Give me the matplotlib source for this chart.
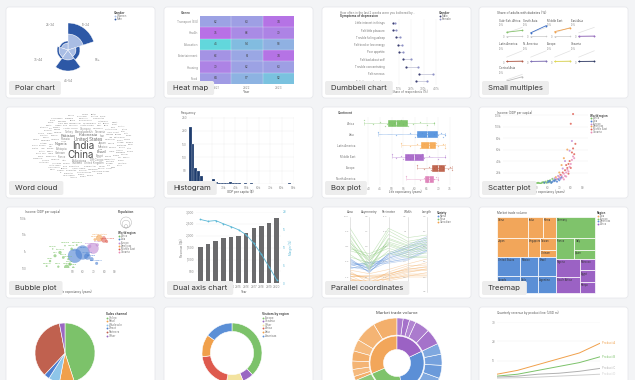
#!/usr/bin/env python3
import numpy as np
import matplotlib
matplotlib.use('Agg')
import matplotlib.pyplot as plt
from matplotlib.colors import LinearSegmentedColormap, to_rgb
from matplotlib.patches import FancyBboxPatch, Rectangle, Circle

W, H = 635, 380
plt.rcParams['font.family'] = ['Inter', 'DejaVu Sans']

# gallery layout (pixels)
CARD_X = [6, 164, 322, 479]
CARD_Y = [7, 107, 207, 307]
CARD_W, CARD_H = 149, 91
CARD_LABELS = ['Polar chart', 'Heat map', 'Dumbbell chart', 'Small multiples',
               'Word cloud', 'Histogram', 'Box plot', 'Scatter plot',
               'Bubble plot', 'Dual axis chart', 'Parallel coordinates', 'Treemap']

# ---------------- data ----------------
POLAR_CATS = ['18-24', '25-34', '35-44', '45-54', '55+']
POLAR_WOMEN = [16, 7, 9, 10, 8]
POLAR_MEN = [11, 2, 2, 11, 4]

HEAT_ROWS = ['Transport (EU)', 'Health', 'Education', 'Entertainment', 'Housing', 'Food']
HEAT_COLS = ['2021', '2022', '2023']
HEAT_VALUES = [[62, 63, 74], [75, 68, 70], [45, 54, 58],
               [66, 61, 74], [70, 62, 63], [64, 57, 52]]

DB_ITEMS = ['Little interest in things', 'Felt little pleasure', 'Trouble falling asleep',
            'Felt tired or low energy', 'Poor appetite', 'Felt bad about self',
            'Trouble concentrating', 'Felt nervous', 'Felt down or hopeless']
DB_MALE = [5.0, 5.0, 7.5, 9.1, 10.2, 13.4, 15.8, 26.4, 24.0]
DB_FEMALE = [6.6, 7.7, 11.0, 12.7, 13.5, 19.7, 25.3, 37.8, 33.0]

SM_REGIONS = ['Sub-Sah. Africa', 'South Asia', 'Middle East', 'East Asia',
              'Latin America', 'N. America', 'Europe', 'Oceania', 'Central Asia']
SM_YEARS = [2010, 2020]
SM_WORLD = [3.5, 8.0]
SM_LOW = [0.4, 0.5]
SM_VALUES = [[4.0, 5.5], [3.5, 9.5], [4.5, 7.5], [0.6, 0.8], [0.4, 0.6],
             [0.4, 0.6], [0.4, 0.6], [0.4, 0.5], [2.5, 6.0]]
SM_COLORS = ['#86c26d', '#3d6fc6', '#f0a24f', '#9a6cc4', '#b65a47',
             '#7d6cb8', '#e3dc4f', '#2f3a66', '#bbbbbb']

WORDS = ['India', 'China', 'United States', 'Indonesia', 'Pakistan', 'Nigeria', 'Brazil', 'Bangladesh', 'Russia', 'Mexico',
         'Ethiopia', 'Japan', 'Philippines', 'Egypt', 'DR Congo', 'Vietnam', 'Iran', 'Turkey', 'Germany', 'Thailand',
         'United Kingdom', 'Tanzania', 'France', 'South Africa', 'Italy', 'Kenya', 'Myanmar', 'Colombia', 'South Korea', 'Uganda',
         'Sudan', 'Spain', 'Argentina', 'Algeria', 'Iraq', 'Afghanistan', 'Poland', 'Canada', 'Morocco', 'Ukraine',
         'Saudi Arabia', 'Angola', 'Uzbekistan', 'Yemen', 'Peru', 'Malaysia', 'Ghana', 'Mozambique', 'Nepal', 'Madagascar',
         'Venezuela', 'Ivory Coast', 'Cameroon', 'Niger', 'Australia', 'North Korea', 'Taiwan', 'Syria', 'Mali', 'Burkina Faso',
         'Sri Lanka', 'Malawi', 'Zambia', 'Chile', 'Kazakhstan', 'Romania', 'Chad', 'Ecuador', 'Somalia', 'Guatemala',
         'Senegal', 'Netherlands', 'Cambodia', 'Zimbabwe', 'Guinea', 'Rwanda', 'Benin', 'Burundi', 'Tunisia', 'Bolivia',
         'Haiti', 'Belgium', 'Jordan', 'Cuba', 'South Sudan', 'Dominican Rep.', 'Czechia', 'Greece', 'Sweden', 'Portugal',
         'Azerbaijan', 'Hungary', 'Honduras', 'Tajikistan', 'Israel', 'Belarus', 'Austria', 'UAE', 'Papua New Guinea', 'Switzerland',
         'Togo', 'Sierra Leone', 'Laos', 'Serbia', 'Paraguay', 'Libya', 'Bulgaria', 'Lebanon', 'Nicaragua', 'Kyrgyzstan',
         'El Salvador', 'Turkmenistan', 'Singapore', 'Denmark', 'Finland', 'Congo', 'Norway', 'Slovakia', 'Palestine', 'Oman',
         'Costa Rica', 'Liberia', 'Ireland', 'New Zealand', 'CAR', 'Mauritania', 'Panama', 'Kuwait', 'Croatia', 'Georgia',
         'Eritrea', 'Uruguay', 'Mongolia', 'Bosnia', 'Jamaica', 'Armenia', 'Albania', 'Lithuania', 'Qatar', 'Namibia',
         'Gambia', 'Botswana', 'Gabon', 'Lesotho', 'Slovenia', 'Latvia', 'N. Macedonia', 'Kosovo', 'Bahrain', 'Estonia',
         'Mauritius', 'Cyprus', 'Djibouti', 'Fiji', 'Guyana', 'Bhutan', 'Luxembourg', 'Malta', 'Iceland']
WORD_POP = [1428, 1425, 340, 277, 240, 223, 216, 173, 144, 128,
            126, 123, 117, 112, 102, 98, 89, 85, 83, 71,
            67, 67, 64, 60, 59, 55, 54, 52, 51, 48,
            48, 47, 46, 45, 45, 42, 41, 38, 37, 37,
            36, 36, 35, 34, 34, 34, 34, 33, 31, 30,
            29, 28, 28, 27, 26, 26, 24, 23, 23, 23,
            22, 20, 20, 19, 19, 19, 18, 18, 18, 18,
            17, 17, 17, 16, 14, 14, 13, 13, 12, 12,
            12, 11, 11, 11, 11, 11, 10, 10, 10, 10,
            10, 10, 10, 10, 9, 9, 9, 9, 10, 9,
            9, 9, 7.6, 7, 6.8, 6.9, 6.7, 5.4, 7, 7,
            6.3, 6.5, 6, 5.9, 5.5, 6, 5.5, 5.4, 5.4, 4.6,
            5.2, 5.4, 5.1, 5.2, 5.7, 4.9, 4.5, 4.3, 4, 3.7,
            3.7, 3.4, 3.4, 3.2, 2.8, 2.8, 2.8, 2.7, 2.7, 2.6,
            2.8, 2.7, 2.4, 2.3, 2.1, 1.8, 2.1, 1.7, 1.5, 1.3,
            1.3, 1.3, 1.1, 0.9, 0.8, 0.8, 0.65, 0.53, 0.38]

HIST_BIN = 2.5  # thousand $
HIST_COUNTS = [215, 150, 60, 50, 30, 10, 6, 5, 17, 8, 4, 3, 2, 4, 6, 5, 2, 3,
               1, 2, 1, 2, 0, 1, 0, 1, 0, 0, 1, 0, 0, 0, 0, 0, 2, 0]

BOX_GROUPS = ['Africa', 'Asia', 'Latin America', 'Middle East', 'Europe', 'North America']
BOX_COLORS = ['#74bf5e', '#4c8ddc', '#f5a54a', '#a35fc6', '#b9573f', '#dc7ab5']
BOX_VALUES = [[38, 42, 45, 47, 48, 49, 50, 51, 52, 52, 53, 54, 55, 56, 57, 59, 62, 65, 68],
              [44, 52, 58, 60, 61, 63, 64, 65, 65, 66, 68, 69, 70, 71, 72, 73],
              [54, 58, 61, 62, 63, 64, 65, 66, 66, 67, 68, 69, 70, 72, 73],
              [50, 52, 54, 55, 56, 57, 58, 59, 60, 61, 62, 63, 64, 66, 70, 73],
              [61, 64, 66, 67, 68, 69, 70, 70, 71, 72, 72, 73, 74, 75, 76],
              [56, 62, 64, 65, 66, 66, 67, 68, 69, 70]]

REGION_NAMES = ['Africa', 'Asia', 'Europe', 'Americas', 'Middle East', 'Oceania']
REGION_COLORS = ['#74bf5e', '#4a7fd1', '#c08ad4', '#f2a04e', '#de5a4e', '#e88bb8']

SC_REGION = [0] * 18 + [1] * 14 + [2] * 7 + [4] * 15 + [3] * 5 + [5] * 16
SC_LIFE = [45, 48, 50, 51, 52, 53, 54, 55, 56, 57, 58, 59, 60, 61, 62, 63, 64, 66,
           57, 60, 61, 62, 63, 64, 65, 66, 67, 68, 69, 70, 71, 72,
           66, 69, 71, 73, 75, 79, 81,
           71, 73, 75, 76, 77, 78, 78, 79, 80, 80, 81, 82, 82, 83, 84,
           67, 70, 72, 74, 77,
           68, 70, 72, 73, 74, 74, 75, 76, 76, 77, 78, 79, 80, 81, 82, 83]
SC_GDP = [1.2, 0.8, 1.5, 1.9, 2.0, 1.1, 0.9, 2.5, 3.2, 1.8, 4.0, 2.2, 5.5, 3.0, 6.5, 2.8, 9.0, 7.0,
          2.5, 3.0, 5.2, 4.5, 2.0, 3.8, 6.0, 5.0, 7.5, 4.2, 8.5, 6.5, 10, 12,
          10, 14, 9, 27, 40, 58, 75,
          16, 20, 24, 33, 28, 35, 18, 40, 28, 105, 55, 62, 122, 52, 70,
          12, 20, 33, 45, 60,
          9, 12, 15, 11, 18, 8, 14, 20, 13, 25, 22, 30, 35, 42, 48, 45]

BUB_NAMES = ['India', 'China', 'Indonesia', 'Vietnam', 'Bangladesh',
             'Russia', 'Turkey', 'Poland', 'United States', 'Mexico', 'Iran', 'Saudi Arabia',
             'Niger', 'Mali', 'Ethiopia', 'Kenya', 'Nigeria', 'Ghana', 'Chad', 'Gabon',
             'Botswana', 'Burundi', 'Namibia', 'Malawi', 'Uganda', 'Zambia']
BUB_REGION = [1, 1, 1, 1, 1, 2, 2, 2, 3, 3, 4, 4] + [0] * 14
BUB_LIFE = [52.3, 59.6, 64.0, 68.0, 72.8, 69.6, 65.8, 73.4, 75.3, 71.2, 79.7, 82.2,
            28.8, 33.5, 38.2, 41.3, 44.5, 47.6, 36.6, 49.2, 54.0, 25.6, 42.9, 31.3, 46.0, 50.7]
BUB_GDP = [540, 850, 490, 340, 190, 1500, 2000, 2450, 6200, 5100, 4900, 3900,
           260, 540, 850, 430, 110, 170, 120, 1400, 2400, 130, 2200, 1400, 340, 105]
BUB_POP = [1400, 1400, 270, 95, 50, 800, 100, 60, 300, 40, 200, 50,
           30, 50, 60, 40, 180, 60, 25, 35, 15, 15, 10, 8, 20, 30]

DA_YEARS = list(range(2010, 2021))
DA_SALES = [1543, 1671, 1786, 1886, 1943, 1986, 2100, 2314, 2429, 2557, 2743]
DA_MARGIN = [17.9, 17.4, 17.6, 16.7, 15.9, 15.0, 13.6, 11.2, 8.1, 4.6, 0.95]

PC_AXES = ['Area', 'Asymmetry', 'Perimeter', 'Width', 'Length']
PC_RANGES = [(10, 22), (0, 9), (12, 18), (2.5, 4.5), (4.5, 7.0)]
PC_VARIETIES = ['Kama', 'Rosa', 'Canadian']
PC_COLORS = ['#5b8fd8', '#7dc36b', '#f0a04b']
PC_CANADIAN = [[12.1, 1.2, 13.1, 2.98, 5.10], [12.6, 0.9, 13.3, 3.05, 5.22], [13.0, 1.6, 13.5, 3.10, 5.35],
               [11.8, 1.4, 13.0, 2.95, 5.05], [12.4, 2.0, 13.4, 3.15, 5.48], [13.3, 1.1, 13.6, 3.20, 5.40],
               [12.8, 1.8, 13.2, 3.02, 5.28], [12.2, 0.7, 13.1, 2.92, 5.15], [13.5, 2.2, 13.8, 3.25, 5.60],
               [12.9, 1.5, 13.4, 3.12, 5.32], [11.9, 1.0, 12.9, 2.90, 5.00], [12.5, 1.9, 13.3, 3.08, 5.25]]
PC_KAMA = [[14.0, 2.6, 14.4, 3.40, 5.90], [14.6, 3.0, 14.7, 3.55, 6.05], [15.1, 2.4, 14.9, 3.65, 6.20],
           [13.7, 3.4, 14.3, 3.35, 5.85], [14.9, 2.8, 15.0, 3.70, 6.30], [14.3, 3.5, 14.6, 3.50, 6.00],
           [15.4, 2.3, 15.1, 3.75, 6.35], [13.9, 2.9, 14.5, 3.45, 5.95], [14.7, 3.2, 14.8, 3.60, 6.10],
           [15.2, 2.7, 15.0, 3.68, 6.25], [14.1, 3.6, 14.4, 3.38, 5.88], [14.5, 2.5, 14.7, 3.58, 6.15]]
PC_ROSA = [[16.0, 3.0, 15.3, 3.45, 5.70], [17.2, 3.8, 15.8, 3.60, 5.95], [18.5, 2.8, 16.3, 3.75, 6.15],
           [16.6, 4.3, 15.5, 3.50, 5.80], [19.4, 3.3, 16.9, 3.85, 6.30], [17.8, 4.0, 16.0, 3.68, 6.05],
           [15.6, 3.5, 15.1, 3.42, 5.65], [18.1, 2.6, 16.2, 3.72, 6.10], [16.9, 4.6, 15.7, 3.55, 5.90],
           [19.0, 3.7, 16.6, 3.80, 6.22], [17.5, 3.1, 15.9, 3.62, 6.00], [20.2, 4.1, 17.1, 3.95, 6.40]]

TM_REGIONS = ['Asia', 'Europe', 'Americas', 'Africa']
TM_COLORS = ['#f2a65a', '#7fc36b', '#5b8fd6', '#9b62c4']
TM_ITEMS = [['China', 'Japan', 'India', 'Korea', 'Singapore', 'Taiwan', 'Vietnam'],
            ['Germany', 'France', 'Italy', 'Spain'],
            ['United States', 'Canada', 'Mexico', 'Brazil', 'Chile', 'Argentina'],
            ['Nigeria', 'South Africa', 'Egypt', 'Morocco', 'Kenya']]
TM_VALUES = [[651, 589, 315, 273, 228, 192, 112],
             [819, 390, 252, 189],
             [467, 389, 360, 353, 300, 295],
             [432, 400, 175, 175, 165]]

PIE_LABELS = ['Online', 'Retail', 'Wholesale', 'Direct', 'Partners', 'Other']
PIE_VALUES = [45, 8, 6, 3, 35, 3]
PIE_COLORS = ['#7cc26a', '#f0a04b', '#8ec5e8', '#4e7fd0', '#c0614f', '#9a68c2']

DONUT_LABELS = ['Europe', 'Oceania', 'Other', 'Africa', 'Asia', 'Americas']
DONUT_VALUES = [38, 6, 9, 20, 12, 15]
DONUT_COLORS = ['#7cc26a', '#9a68c2', '#f3e3a0', '#de5a4e', '#f0a04b', '#5b8fd6']

LC_YEARS = [2000, 2004, 2008, 2012, 2016, 2020]
LC_NAMES = ['Product A', 'Product B', 'Product C', 'Product D']
LC_VALUES = [[3, 5, 8, 11, 14, 19], [2, 3, 5, 7, 9, 12],
             [1.5, 2, 3, 3.5, 4.5, 6], [1, 1.2, 1.5, 2, 2.5, 3]]
LC_COLORS = ['#f0a04b', '#7cc26a', '#b0b0b0', '#cfcfcf']

TICK = '#8c8c8c'
TINY = 2.2

# ---------------- figure ----------------
fig = plt.figure(figsize=(W / 100, H / 100), dpi=100)
fig.patch.set_facecolor('#f3f4f6')

bg = fig.add_axes([0, 0, 1, 1], zorder=-1)
bg.set_xlim(0, W)
bg.set_ylim(H, 0)
bg.axis('off')

ov = fig.add_axes([0, 0, 1, 1], zorder=10)
ov.set_xlim(0, W)
ov.set_ylim(H, 0)
ov.axis('off')


def card_axes(x0, y0, x1, y1, **kw):
    return fig.add_axes([x0 / W, 1 - y1 / H, (x1 - x0) / W, (y1 - y0) / H], **kw)


def tidy(ax, grid='both'):
    ax.set_facecolor('none')
    for s in ax.spines.values():
        s.set_visible(False)
    ax.tick_params(length=0, labelsize=TINY, labelcolor=TICK, pad=1.2)
    if grid:
        ax.grid(True, axis=grid, color='#ececec', lw=0.3)
        ax.set_axisbelow(True)


def note(x, y, s, fs=2.4, color='#555', **kw):
    ov.text(x, y, s, fontsize=fs, color=color, va='center', **kw)


def legend(x, y, title, labels, colors, dy=3.0, fs=2.3):
    note(x, y, title, fs=fs, color='#444', fontweight='bold')
    for i, (lab, col) in enumerate(zip(labels, colors)):
        yy = y + dy * (i + 1)
        ov.scatter([x + 1], [yy], s=1.8, color=col, linewidths=0)
        note(x + 2.6, yy, lab, fs=fs * 0.9, color='#777')


def lighten(c, k):
    r, g, b = to_rgb(c)
    return (r + (1 - r) * k, g + (1 - g) * k, b + (1 - b) * k)


def squarify(values, x, y, w, h):
    total = sum(values)
    vals = [v * w * h / total for v in values]

    def worst(row, side):
        thick = sum(row) / side
        return max(max(thick / (v / thick), (v / thick) / thick) for v in row)

    rects, i = [], 0
    while i < len(vals):
        side = min(w, h)
        row = [vals[i]]
        i += 1
        while i < len(vals) and worst(row + [vals[i]], side) <= worst(row, side):
            row.append(vals[i])
            i += 1
        thick = sum(row) / side
        if w > h:
            yy = y
            for v in row:
                rects.append((x, yy, thick, v / thick))
                yy += v / thick
            x += thick
            w -= thick
        else:
            xx = x
            for v in row:
                rects.append((xx, y, v / thick, thick))
                xx += v / thick
            y += thick
            h -= thick
    return rects


# ---------------- charts ----------------
def draw_polar():
    ax = card_axes(38, 20, 98, 80, projection='polar')
    n = len(POLAR_CATS)
    theta = np.deg2rad(54) + np.arange(n) * 2 * np.pi / n
    ax.bar(theta, POLAR_WOMEN, width=2 * np.pi / n, color='#a9bde4', edgecolor='white', linewidth=0.3)
    ax.bar(theta, POLAR_MEN, width=2 * np.pi / n, bottom=POLAR_WOMEN, color='#2d58a6',
           edgecolor='white', linewidth=0.3)
    ax.set_ylim(0, 30)
    ax.set_axis_off()
    for t, lab in zip(theta, POLAR_CATS):
        ax.text(t, 31, lab, fontsize=TINY, color='#777', ha='center', va='center')
    legend(114, 13, 'Gender', ['Women', 'Men'], ['#a9bde4', '#2d58a6'])


def draw_heatmap():
    ax = card_axes(200, 16, 294, 84)
    vals = np.array(HEAT_VALUES)
    cmap = LinearSegmentedColormap.from_list('cyan_purple', ['#62d7dc', '#98abe4', '#b870e6'])
    ax.imshow(vals, cmap=cmap, vmin=45, vmax=75, aspect='auto')
    ax.set_xticks(range(len(HEAT_COLS)), HEAT_COLS)
    ax.set_yticks(range(len(HEAT_ROWS)), HEAT_ROWS)
    tidy(ax, None)
    for k in range(1, len(HEAT_ROWS)):
        ax.axhline(k - 0.5, color='white', lw=0.3, alpha=0.6)
    for k in range(1, len(HEAT_COLS)):
        ax.axvline(k - 0.5, color='white', lw=0.3, alpha=0.6)
    for (r, c), v in np.ndenumerate(vals):
        ax.text(c, r, f'{v}', ha='center', va='center', fontsize=TINY, color='#444')
    note(181, 13, 'Genre', fontweight='bold')
    note(247, 92, 'Year', ha='center')


def draw_dumbbell():
    ax = card_axes(386.6, 19, 442, 85)
    y = np.arange(len(DB_ITEMS))
    ax.hlines(y, DB_MALE, DB_FEMALE, color='#c9cadb', lw=0.6)
    ax.scatter(DB_MALE, y, s=2.5, color='#3b3e72', zorder=3, linewidths=0)
    ax.scatter(DB_FEMALE, y, s=2.5, color='#8f92c6', zorder=3, linewidths=0)
    ax.set_xlim(0, 45)
    ax.set_ylim(len(DB_ITEMS) - 0.45, -0.55)
    ax.set_xticks([10, 20, 30, 40], ['10%', '20%', '30%', '40%'])
    ax.set_yticks(y, DB_ITEMS)
    tidy(ax, 'x')
    ax.tick_params(axis='y', labelsize=2.0, labelcolor='#777')
    note(340, 13, 'How often in the last 2 weeks were you bothered by...', fs=2.1, color='#777')
    note(340, 16.3, 'Symptoms of depression', fs=2.2, color='#444', fontweight='bold')
    legend(439, 13, 'Gender', ['Male', 'Female'], ['#3b3e72', '#8f92c6'])
    note(410, 92, 'Share of respondents (%)', fs=2.1, color='#666', ha='center')


def draw_small_multiples():
    lefts = [506, 530, 554, 578]
    rows = [(25, 37), (48, 62), (72, 84)]
    note(497, 13, 'Share of adults with diabetes (%)', fs=2.3, color='#555')
    for i, name in enumerate(SM_REGIONS):
        r, c = divmod(i, 4)
        x0 = lefts[c]
        y0, y1 = rows[r]
        ax = card_axes(x0, y0, x0 + 17, y1)
        ax.plot(SM_YEARS, SM_WORLD, color='#e0e0e0', lw=0.5)
        ax.plot(SM_YEARS, SM_LOW, color='#c8c8c8', lw=0.5, marker='o', ms=1.1, mew=0)
        ax.plot(SM_YEARS, SM_VALUES[i], color=SM_COLORS[i], lw=0.6, marker='o', ms=1.3, mew=0)
        ax.set_ylim(0, 10)
        ax.set_xlim(SM_YEARS[0] - 0.5, SM_YEARS[1] + 0.5)
        ax.set_xticks([])
        ax.set_yticks([0, 10], ['0', '10%'])
        tidy(ax, None)
        ax.tick_params(labelsize=1.8)
        note(x0 - 7, y0 - 4, name, fs=2.0, color='#555')


def draw_word_cloud():
    cx, cy = 83, 146
    pops = np.array(WORD_POP, dtype=float)
    sizes = 1.25 + 5.8 * (pops / pops.max()) ** 0.75
    boxes = np.empty((0, 4))
    for k in np.argsort(-sizes, kind='stable'):
        word, fs = WORDS[k], sizes[k]
        fpx = fs * 100 / 72
        w, h = 0.56 * fpx * len(word) + 0.6, 0.85 * fpx + 0.3
        for step in range(8000):
            t = step * 0.1
            r = 0.016 * step
            x, y = cx + 1.5 * r * np.cos(t), cy - r * np.sin(t)
            box = np.array([x - w / 2, y - h / 2, x + w / 2, y + h / 2])
            if not np.any((boxes[:, 0] < box[2]) & (boxes[:, 2] > box[0]) &
                          (boxes[:, 1] < box[3]) & (boxes[:, 3] > box[1])):
                break
        boxes = np.vstack([boxes, box])
        shade = '#4d4d4d' if fs > 5 else ('#6a6a6a' if fs > 2.6 else '#8f8f8f')
        bg.text(x, y, word, fontsize=fs, color=shade, ha='center', va='center', zorder=3)


def draw_histogram():
    ax = card_axes(188.6, 117, 293.6, 184)
    edges = np.arange(len(HIST_COUNTS) + 1) * HIST_BIN
    ax.bar(edges[:-1], HIST_COUNTS, width=HIST_BIN, align='edge', color='#1f3d6e',
           edgecolor='white', linewidth=0.15)
    ax.set_xlim(0, 90)
    ax.set_ylim(0, 252)
    ax.set_xticks(range(20, 91, 10), [f'{v}k' for v in range(20, 91, 10)])
    ax.set_yticks(range(0, 251, 50))
    tidy(ax, 'both')
    note(181, 113, 'Frequency', fs=2.2)
    note(240, 192, 'GDP per capita ($)', fs=2.2, ha='center')


def draw_boxplot():
    ax = card_axes(356.6, 117, 454.6, 185)
    n = len(BOX_GROUPS)
    bp = ax.boxplot(BOX_VALUES, vert=False, positions=range(n), widths=0.55, patch_artist=True,
                    showfliers=False, whis=(0, 100))
    for i, col in enumerate(BOX_COLORS):
        bp['boxes'][i].set(facecolor=col, edgecolor=col, alpha=0.9, linewidth=0.4)
        bp['medians'][i].set(color='white', linewidth=0.5)
        for part in ('whiskers', 'caps'):
            for line in bp[part][2 * i:2 * i + 2]:
                line.set(color=col, linewidth=0.4, linestyle=(0, (1, 1)))
        vals = BOX_VALUES[i]
        offs = ((np.arange(len(vals)) * 7) % 11 - 5) / 22
        ax.scatter(vals, i + offs, s=0.9, color=col, alpha=0.55, linewidths=0, zorder=3)
    ax.set_xlim(35, 77)
    ax.set_ylim(n - 0.46, -0.54)
    ax.set_xticks(range(40, 76, 5))
    ax.set_yticks(range(n), BOX_GROUPS)
    tidy(ax, 'x')
    ax.tick_params(axis='y', labelsize=2.0, labelcolor='#777')
    note(338, 113, 'Continent', fs=2.2, fontweight='bold')
    note(405, 192, 'Life expectancy (years)', fs=2.1, ha='center')


def draw_scatter():
    ax = card_axes(503, 112.3, 588, 184)
    cols = [REGION_COLORS[r] for r in SC_REGION]
    ax.scatter(SC_LIFE, SC_GDP, s=2.2, c=cols, alpha=0.8, linewidths=0)
    ax.set_xlim(21, 95)
    ax.set_ylim(0, 125)
    ax.set_xticks(range(50, 91, 10))
    ax.set_yticks(range(20, 121, 20), [f'{v}k' for v in range(20, 121, 20)])
    tidy(ax, 'y')
    note(497, 113, 'Income (GDP per capita)', fs=2.2)
    note(548, 192, 'Life expectancy (years)', fs=2.1, ha='center')
    legend(590, 115.5, 'World region', REGION_NAMES, REGION_COLORS, dy=2.7, fs=2.0)


def draw_bubble():
    ax = card_axes(28, 218, 117, 268)
    cols = [REGION_COLORS[r] for r in BUB_REGION]
    ax.scatter(BUB_LIFE, BUB_GDP, s=np.array(BUB_POP) * 0.07, c=cols, alpha=0.6,
               edgecolors=cols, linewidths=0.25)
    for name, x, y, r, p in zip(BUB_NAMES, BUB_LIFE, BUB_GDP, BUB_REGION, BUB_POP):
        ax.annotate(name, (x, y), xytext=(0, 1.5 + 0.05 * np.sqrt(p)), textcoords='offset points',
                    fontsize=1.7, color=REGION_COLORS[r], ha='center', va='bottom')
    ax.set_yscale('log')
    ax.set_ylim(100, 1e5)
    ax.set_xlim(8, 92)
    ax.set_yticks([100, 1000, 10000, 100000], ['100', '1k', '10k', '100k'])
    ax.set_xticks(range(50, 91, 10))
    ax.minorticks_off()
    tidy(ax, None)
    note(25, 212, 'Income (GDP per capita)', fs=2.2)
    note(75, 292, 'Life expectancy (years)', fs=2.1, ha='center')
    note(118, 212, 'Population', fs=2.2, fontweight='bold')
    for rad in (5.5, 3.9, 1.7):
        ov.add_patch(Circle((126, 228 - rad), rad, fc='none', ec='#aaaaaa', lw=0.3))
    legend(118, 233, 'World region', REGION_NAMES, REGION_COLORS, dy=3.2, fs=2.0)


def draw_dual_axis():
    ax = card_axes(195.9, 212, 281.3, 283.3)
    x = np.arange(len(DA_YEARS))
    ax.bar(x, DA_SALES, width=0.59, color='#6b6b6d')
    ax.set_xlim(-0.6, len(DA_YEARS) - 0.4)
    ax.set_ylim(0, 3000)
    ax.set_xticks(x[4:], [str(v) for v in DA_YEARS[4:]])
    ax.set_yticks(range(0, 3001, 500), [f'{v:,}' for v in range(0, 3001, 500)])
    tidy(ax, 'y')
    ax.set_ylabel('Revenue ($k)', fontsize=2.1, color='#777', labelpad=1)
    ax2 = ax.twinx()
    ax2.plot(x, DA_MARGIN, color='#5cb8d6', lw=0.6, marker='o', ms=1.3, mew=0)
    ax2.set_ylim(0, 20)
    ax2.set_yticks(range(0, 21, 5))
    tidy(ax2, None)
    ax2.tick_params(labelcolor='#5cb8d6')
    ax2.set_ylabel('Margin (%)', fontsize=2.1, color='#5cb8d6', labelpad=1)
    note(244, 292, 'Year', fs=2.1, ha='center')


def draw_parallel():
    ax = card_axes(350, 217, 427, 292)
    xs = np.arange(len(PC_AXES))
    for rows, col in zip((PC_KAMA, PC_ROSA, PC_CANADIAN), PC_COLORS):
        for row in rows:
            norm = [(v - lo) / (hi - lo) for v, (lo, hi) in zip(row, PC_RANGES)]
            ax.plot(xs, norm, color=col, lw=0.4, alpha=0.45)
    for i, (name, (lo, hi)) in enumerate(zip(PC_AXES, PC_RANGES)):
        ax.axvline(i, color='#cfcfcf', lw=0.4, clip_on=False)
        ax.text(i, 1.035, name, ha='center', va='bottom', fontsize=2.2, color='#555')
        for f in np.linspace(0, 1, 6):
            ax.text(i - 0.05, f, f'{lo + f * (hi - lo):.1f}', ha='right', va='center',
                    fontsize=1.7, color='#9a9a9a')
    ax.set_xlim(0, len(PC_AXES) - 1)
    ax.set_ylim(0, 1)
    ax.axis('off')
    legend(437, 213, 'Variety', PC_VARIETIES, PC_COLORS, dy=3.0, fs=2.1)


def draw_treemap():
    x0, y0, x1, y1 = 497, 217, 595, 293
    totals = [sum(v) for v in TM_VALUES]
    order = list(np.argsort(totals)[::-1])
    regions = squarify([totals[k] for k in order], x0, y0, x1 - x0, y1 - y0)
    for k, (rx, ry, rw, rh) in zip(order, regions):
        vals = TM_VALUES[k]
        sub = list(np.argsort(vals, kind='stable')[::-1])
        cells = squarify([vals[j] for j in sub], rx, ry, rw, rh)
        for j, (cx, cy, cw, ch) in zip(sub, cells):
            bg.add_patch(Rectangle((cx, cy), cw, ch, fc=TM_COLORS[k], ec='white', lw=0.5, zorder=2))
            bg.text(cx + 1, cy + 1.3, TM_ITEMS[k][j], fontsize=1.8, color='#333',
                    va='top', ha='left', zorder=3)
    note(497, 213, 'Market trade volume', fs=2.2)
    legend(597, 213, 'Region', TM_REGIONS, TM_COLORS, dy=2.8, fs=2.0)


def draw_pie():
    ax = card_axes(35, 323, 95, 383)
    ax.pie(PIE_VALUES, colors=PIE_COLORS, startangle=90, counterclock=False,
           wedgeprops=dict(edgecolor='white', linewidth=0.4))
    ax.set_xlim(-1, 1)
    ax.set_ylim(-1, 1)
    legend(106, 314, 'Sales channel', PIE_LABELS, PIE_COLORS, dy=3.6, fs=2.2)


def draw_donut():
    ax = card_axes(202, 323, 262, 383)
    ax.pie(DONUT_VALUES, colors=DONUT_COLORS, startangle=90, counterclock=False,
           wedgeprops=dict(width=0.28, edgecolor='white', linewidth=0.4))
    ax.set_xlim(-1, 1)
    ax.set_ylim(-1, 1)
    legend(262, 314, 'Visitors by region', DONUT_LABELS, DONUT_COLORS, dy=3.6, fs=2.2)


def draw_sunburst():
    ax = card_axes(352, 318, 442, 408)
    totals = [sum(v) for v in TM_VALUES]
    ax.pie(totals, radius=0.6, colors=TM_COLORS, startangle=90,
           wedgeprops=dict(width=0.3, edgecolor='white', linewidth=0.4))
    outer_vals, outer_cols = [], []
    for k, vals in enumerate(TM_VALUES):
        for j, v in enumerate(vals):
            outer_vals.append(v)
            outer_cols.append(lighten(TM_COLORS[k], 0.1 + 0.06 * (j % 3)))
    ax.pie(outer_vals, radius=1.0, colors=outer_cols, startangle=90,
           wedgeprops=dict(width=0.38, edgecolor='white', linewidth=0.4))
    ax.set_xlim(-1, 1)
    ax.set_ylim(-1, 1)
    note(397, 313, 'Market trade volume', fs=3.0, color='#444', ha='center')


def draw_lines():
    ax = card_axes(497, 322, 600, 380)
    for name, vals, col in zip(LC_NAMES, LC_VALUES, LC_COLORS):
        ax.plot(LC_YEARS, vals, color=col, lw=0.7)
        ax.text(LC_YEARS[-1] + 0.4, vals[-1], name, fontsize=2.0, color=col, va='center')
    ax.set_xlim(LC_YEARS[0], LC_YEARS[-1])
    ax.set_ylim(0, 30)
    ax.set_yticks(range(10, 31, 10))
    ax.set_xticks([])
    tidy(ax, 'y')
    note(497, 313, 'Quarterly revenue by product line (USD m)', fs=2.2)


def draw_cards():
    for r, y in enumerate(CARD_Y):
        for c, x in enumerate(CARD_X):
            bg.add_patch(FancyBboxPatch((x, y), CARD_W, CARD_H, boxstyle='round,pad=0,rounding_size=3',
                                        fc='white', ec='#e4e5e9', lw=0.5, zorder=1))
    renderer = fig.canvas.get_renderer()
    for i, label in enumerate(CARD_LABELS):
        r, c = divmod(i, 4)
        bx, by = CARD_X[c] + 3, CARD_Y[r] + 74
        t = ov.text(bx + 6, by + 7, label, fontsize=5.6, color='#333', va='center', ha='left', zorder=6)
        tw = t.get_window_extent(renderer=renderer).width
        ov.add_patch(FancyBboxPatch((bx, by), tw + 12, 14, boxstyle='round,pad=0,rounding_size=2',
                                    fc='#ededed', ec='none', zorder=5))


draw_polar()
draw_heatmap()
draw_dumbbell()
draw_small_multiples()
draw_word_cloud()
draw_histogram()
draw_boxplot()
draw_scatter()
draw_bubble()
draw_dual_axis()
draw_parallel()
draw_treemap()
draw_pie()
draw_donut()
draw_sunburst()
draw_lines()
draw_cards()

fig.savefig('out.png', dpi=100, facecolor=fig.get_facecolor())
